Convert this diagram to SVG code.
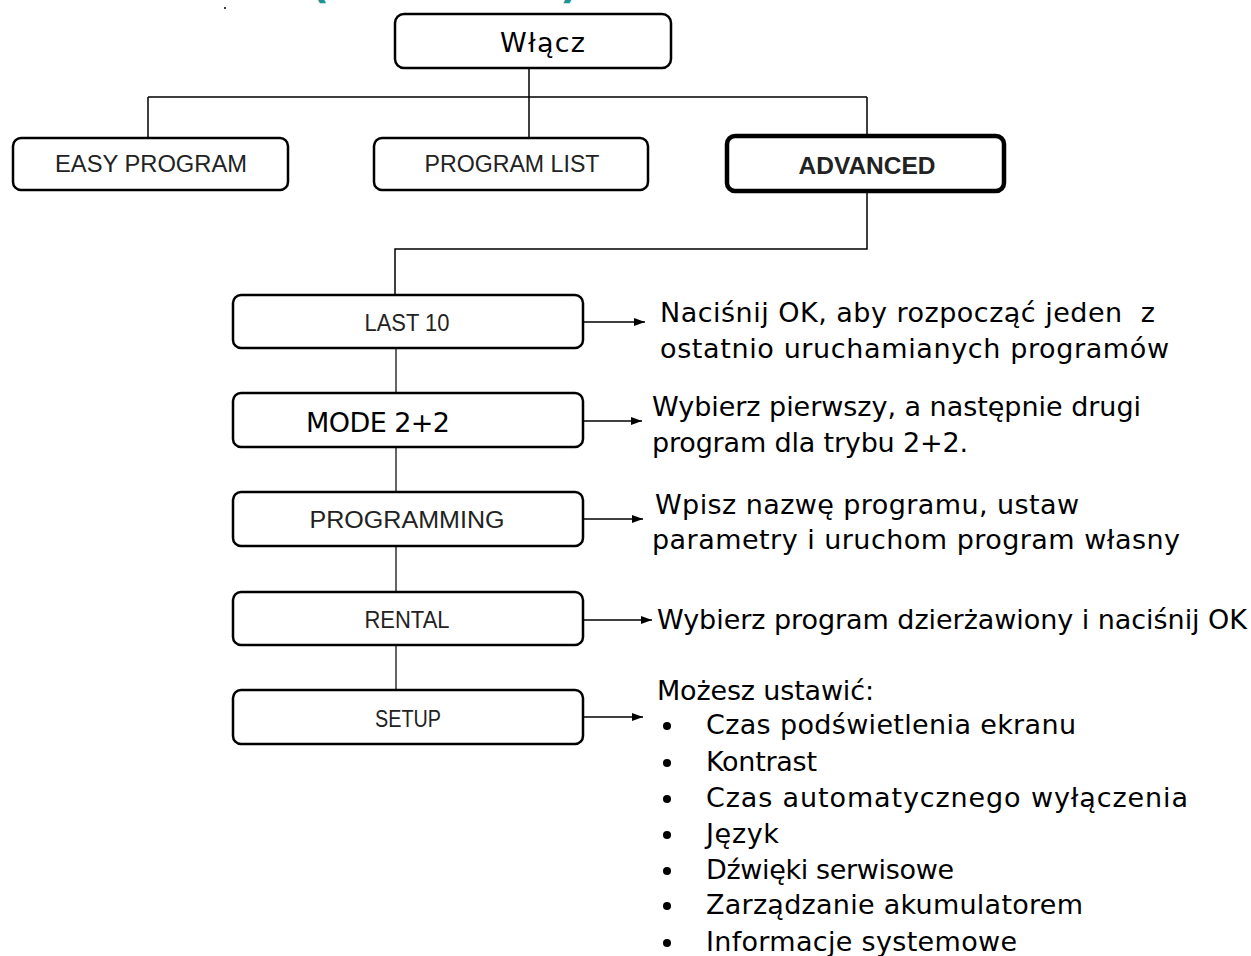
<svg xmlns="http://www.w3.org/2000/svg" width="1251" height="956" viewBox="0 0 1251 956">
<style>
.box{fill:#fff;stroke:#000;stroke-width:2.5}
.thick{fill:#fff;stroke:#000;stroke-width:4.5}
.lbl{font-family:"Liberation Sans",Arial,sans-serif;font-size:23px;fill:#222;text-anchor:middle}
.big{font-family:"DejaVu Sans","Liberation Sans",sans-serif;font-size:27px;fill:#000}
.desc{font-family:"DejaVu Sans","Liberation Sans",sans-serif;font-size:27px;fill:#000}
.ln{fill:none;stroke:#000;stroke-width:1.5}
.gl{fill:none;stroke:#555;stroke-width:1.8}
.ar{fill:none;stroke:#000;stroke-width:1.5;marker-end:url(#ah)}
</style>
<defs>
<marker id="ah" markerWidth="12" markerHeight="10" refX="11" refY="5" orient="auto" markerUnits="userSpaceOnUse">
<path d="M0,1 L11,5 L0,9 Z" fill="#000"/>
</marker>
</defs>
<rect width="1251" height="956" fill="#fff"/>
<g id="title-fragment">
<text x="310" y="-2" font-family="'DejaVu Sans',sans-serif" font-size="42" font-weight="bold" fill="#1a9494">(</text>
<text x="560" y="-2" font-family="'DejaVu Sans',sans-serif" font-size="42" font-weight="bold" fill="#1a9494">)</text>
<circle cx="225" cy="8" r="1" fill="#000"/>
</g>
<g id="connectors">
<path class="ln" d="M529,68 V97 M148,97 H867 M148,97 V138 M529,97 V138 M867,97 V135"/>
<path class="ln" d="M867,192 V249 H395 V295"/>
<path class="gl" d="M396,348 V393 M396,447 V492 M396,546 V592 M396,645 V690"/>
<path class="ar" d="M583,322 H645"/>
<path class="ar" d="M583,421 H642"/>
<path class="ar" d="M583,519 H643"/>
<path class="ar" d="M583,620 H652"/>
<path class="ar" d="M583,717 H643"/>
</g>
<g id="wlacz">
<rect class="box" x="395" y="14" width="276" height="54" rx="9"/>
<text class="big" x="500" y="52" textLength="85">Włącz</text>
</g>
<g id="easy-program">
<rect class="box" x="13" y="138" width="275" height="52" rx="8"/>
<text class="lbl" x="151" y="172" textLength="192" lengthAdjust="spacingAndGlyphs">EASY PROGRAM</text>
</g>
<g id="program-list">
<rect class="box" x="374" y="138" width="274" height="52" rx="8"/>
<text class="lbl" x="512" y="172" textLength="175" lengthAdjust="spacingAndGlyphs">PROGRAM LIST</text>
</g>
<g id="advanced">
<rect class="thick" x="727" y="136" width="277" height="55" rx="8"/>
<text class="lbl" x="867" y="174" font-weight="bold" textLength="137" lengthAdjust="spacingAndGlyphs">ADVANCED</text>
</g>
<g id="last10">
<rect class="box" x="233" y="295" width="350" height="53" rx="8"/>
<text class="lbl" x="407" y="331" textLength="85" lengthAdjust="spacingAndGlyphs">LAST 10</text>
</g>
<g id="mode22">
<rect class="box" x="233" y="393" width="350" height="54" rx="8"/>
<text class="big" x="306" y="432" textLength="144">MODE 2+2</text>
</g>
<g id="programming">
<rect class="box" x="233" y="492" width="350" height="54" rx="8"/>
<text class="lbl" x="407" y="528" textLength="195" lengthAdjust="spacingAndGlyphs">PROGRAMMING</text>
</g>
<g id="rental">
<rect class="box" x="233" y="592" width="350" height="53" rx="8"/>
<text class="lbl" x="407" y="628" textLength="85" lengthAdjust="spacingAndGlyphs">RENTAL</text>
</g>
<g id="setup">
<rect class="box" x="233" y="690" width="350" height="54" rx="8"/>
<text class="lbl" x="408" y="727" textLength="66" lengthAdjust="spacingAndGlyphs">SETUP</text>
</g>
<g id="descriptions">
<text class="desc" x="660" y="322" textLength="495" xml:space="preserve">Naciśnij OK, aby rozpocząć jeden  z</text>
<text class="desc" x="660" y="358" textLength="509">ostatnio uruchamianych programów</text>
<text class="desc" x="652" y="416" textLength="489">Wybierz pierwszy, a następnie drugi</text>
<text class="desc" x="652" y="452" textLength="316">program dla trybu 2+2.</text>
<text class="desc" x="655" y="514" textLength="424">Wpisz nazwę programu, ustaw</text>
<text class="desc" x="652" y="549" textLength="528">parametry i uruchom program własny</text>
<text class="desc" x="657" y="629" textLength="590">Wybierz program dzierżawiony i naciśnij OK</text>
<text class="desc" x="657" y="700" textLength="217">Możesz ustawić:</text>
<g fill="#000">
<circle cx="667" cy="726" r="4"/>
<circle cx="667" cy="763" r="4"/>
<circle cx="667" cy="799" r="4"/>
<circle cx="667" cy="835" r="4"/>
<circle cx="667" cy="871" r="4"/>
<circle cx="667" cy="906" r="4"/>
<circle cx="667" cy="943" r="4"/>
</g>
<text class="desc" x="706" y="734" textLength="370">Czas podświetlenia ekranu</text>
<text class="desc" x="706" y="771" textLength="111">Kontrast</text>
<text class="desc" x="706" y="807" textLength="482">Czas automatycznego wyłączenia</text>
<text class="desc" x="706" y="843" textLength="73">Język</text>
<text class="desc" x="706" y="879" textLength="248">Dźwięki serwisowe</text>
<text class="desc" x="706" y="914" textLength="377">Zarządzanie akumulatorem</text>
<text class="desc" x="706" y="951" textLength="311">Informacje systemowe</text>
</g>
</svg>
